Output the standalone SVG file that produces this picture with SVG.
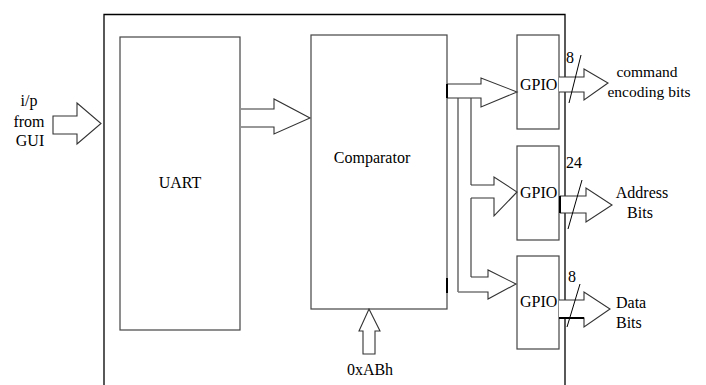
<svg xmlns="http://www.w3.org/2000/svg" width="706" height="385" viewBox="0 0 706 385">
<style>
.box{fill:#fff;stroke:#444;stroke-width:1.2}
.outer{fill:none;stroke:#000;stroke-width:1.3}
.arr{fill:#fff;stroke:#333;stroke-width:1.1;stroke-linejoin:miter}
.ln{fill:none;stroke:#444;stroke-width:1.2}
.thick{fill:none;stroke:#000;stroke-width:2}
.sl{fill:none;stroke:#000;stroke-width:1}
text{font-size:16px;fill:#000}
.m{text-anchor:middle}
</style>
<rect width="706" height="385" fill="#fff"/>
<g font-family="'Liberation Serif', 'DejaVu Serif', serif">
<g id="frame"><path class="outer" d="M104,390 V14.5 H565 V390"/></g>
<g id="uart"><rect class="box" x="120" y="37" width="120" height="293"/><text class="m" x="180" y="188">UART</text></g>
<g id="comparator"><rect class="box" x="311" y="35" width="136" height="274"/><text class="m" x="372" y="163">Comparator</text></g>
<g id="gpio1"><rect class="box" x="517" y="35" width="42" height="94"/><text x="520" y="90">GPIO</text></g>
<g id="gpio2"><rect class="box" x="517" y="146" width="42" height="94"/><text x="520" y="198">GPIO</text></g>
<g id="gpio3"><rect class="box" x="517" y="256" width="42" height="93"/><text x="520" y="307">GPIO</text></g>
<g id="input-label"><text class="m" x="29" y="106">i/p</text><text class="m" x="29" y="127">from</text><text class="m" x="30" y="146">GUI</text></g>
<g id="const-label"><text class="m" x="370" y="375">0xABh</text></g>
<g id="out-labels">
<text class="m" x="647" y="77" style="font-size:15.5px">command</text>
<text class="m" x="649" y="97" style="font-size:15.5px">encoding bits</text>
<text class="m" x="642" y="198">Address</text>
<text class="m" x="640" y="218">Bits</text>
<text x="616" y="308">Data</text>
<text x="616" y="328">Bits</text>
<text x="566" y="63">8</text>
<text x="566" y="168">24</text>
<text x="568" y="282">8</text>
</g>
</g>
<g id="connectors">
<polygon class="arr" points="53,116 77,116 77,103 101,123.5 77,144 77,134 53,134"/>
<polyline class="arr" points="241,109 274,109 274,99 310,118 274,134 274,127 241,127"/>
<polyline class="arr" points="447,84 481,84 481,78 517,92 481,107 481,98 447,98"/>
<line class="thick" x1="447" y1="84" x2="447" y2="98"/>
<line class="ln" x1="458" y1="98" x2="458" y2="292"/>
<line class="ln" x1="471" y1="98" x2="471" y2="185"/>
<line class="ln" x1="471" y1="198" x2="471" y2="277"/>
<polyline class="arr" points="471,185 494,185 494,177 517,192 494,216 494,198 471,198"/>
<polyline class="arr" points="471,277 488,277 488,270 516,284 488,299 488,292 458,292"/>
<line class="thick" x1="447" y1="278" x2="447" y2="293"/>
<polyline class="arr" points="559,77 584,77 584,69 608,83 584,100 584,92 559,92"/>
<polyline class="arr" points="560,196 586,196 586,188 612,205 586,222 586,213 560,213"/>
<line class="thick" x1="560" y1="196" x2="560" y2="213"/>
<polyline class="arr" points="559,300 584,300 584,292 610,309 584,327 584,318 559,318"/>
<line class="thick" x1="559" y1="318" x2="584" y2="318"/>
<line class="sl" x1="569" y1="103" x2="581" y2="55"/>
<line class="sl" x1="568" y1="229" x2="582" y2="180"/>
<line class="sl" x1="567" y1="327" x2="580" y2="284"/>
<polygon class="arr" points="369,309 380,331 375,331 375,354 363,354 363,331 359,331"/>
</g>
</svg>
